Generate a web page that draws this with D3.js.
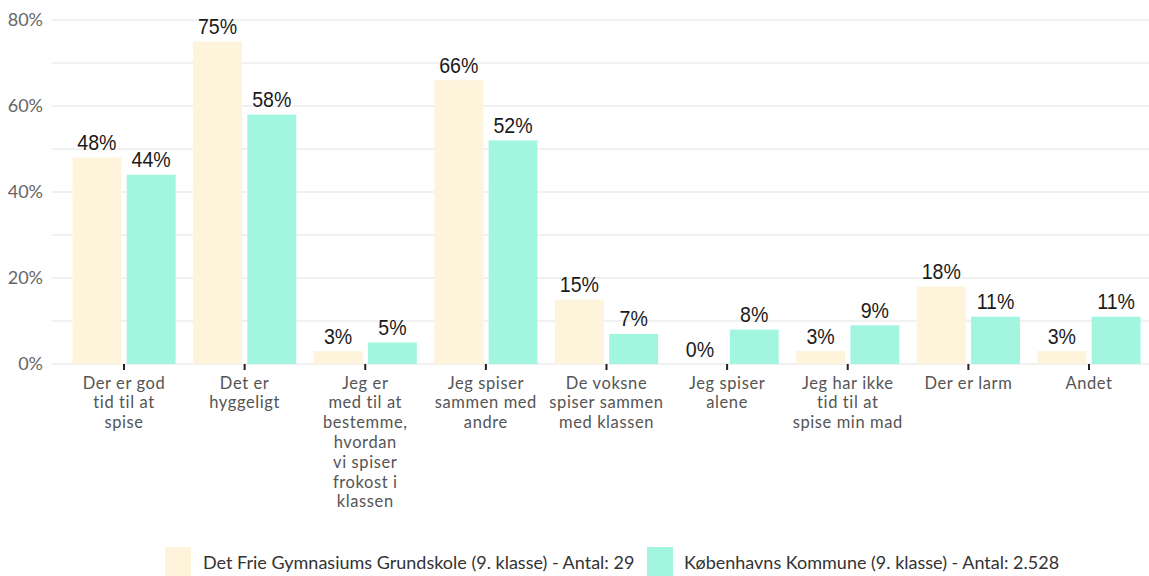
<!DOCTYPE html>
<html>
<head>
<meta charset="utf-8">
<script src="https://cdn.jsdelivr.net/npm/d3@7"></script>
<style>
  html, body { margin: 0; padding: 0; background: #fff; }
  svg { display: block; }
</style>
</head>
<body>
<svg id="chart" width="1149" height="576"></svg>
<script>
// Categories (line breaks mark how each axis label wraps)
const categories = [
  "Der er god\ntid til at\nspise",
  "Det er\nhyggeligt",
  "Jeg er\nmed til at\nbestemme,\nhvordan\nvi spiser\nfrokost i\nklassen",
  "Jeg spiser\nsammen med\nandre",
  "De voksne\nspiser sammen\nmed klassen",
  "Jeg spiser\nalene",
  "Jeg har ikke\ntid til at\nspise min mad",
  "Der er larm",
  "Andet"
];
const seriesNames = [
  "Det Frie Gymnasiums Grundskole (9. klasse) - Antal: 29",
  "Københavns Kommune (9. klasse) - Antal: 2.528"
];
const schoolValues = [48, 75, 3, 66, 15, 0, 3, 18, 3];
const municipalityValues = [44, 58, 5, 52, 7, 8, 9, 11, 11];
const yTicks = [0, 20, 40, 60, 80];
const yGrid = [0, 10, 20, 30, 40, 50, 60, 70, 80];
const colors = ["#FEF4DC", "#A2F5DF"];

const svg = d3.select("#chart");
const plot = { left: 52, right: 1149, top: 20, bottom: 364 };

const y = d3.scaleLinear().domain([0, 80]).range([plot.bottom, plot.top]);
const x0 = d3.scaleBand()
  .domain(d3.range(categories.length))
  .range([63.7, 1149.3])
  .paddingInner(0.145)
  .paddingOuter(0.0725);
const x1 = d3.scaleBand()
  .domain([0, 1])
  .range([0, x0.bandwidth()])
  .paddingInner(0.1);

// Gridlines
svg.append("g")
  .selectAll("line")
  .data(yGrid)
  .join("line")
  .attr("x1", plot.left)
  .attr("x2", plot.right)
  .attr("y1", d => y(d))
  .attr("y2", d => y(d))
  .attr("stroke", "#ececec")
  .attr("stroke-width", 1.6);

// Y axis labels
const yAxis = d3.axisLeft(y)
  .tickValues(yTicks)
  .tickFormat(d => d + "%")
  .tickSize(0)
  .tickPadding(9);
const yg = svg.append("g")
  .attr("transform", `translate(${plot.left},0)`)
  .call(yAxis);
yg.select(".domain").remove();
yg.selectAll("text")
  .attr("fill", "#666")
  .style("font-family", "Lato, 'Noto Sans', sans-serif")
  .style("font-size", "18px");

// Bars
const rows = categories.map((c, i) => ({ i, vals: [schoolValues[i], municipalityValues[i]] }));
const groups = svg.append("g")
  .selectAll("g")
  .data(rows)
  .join("g")
  .attr("transform", d => `translate(${x0(d.i)},0)`);

groups.selectAll("rect")
  .data(d => d.vals.map((v, s) => ({ v, s })))
  .join("rect")
  .attr("x", d => x1(d.s))
  .attr("width", x1.bandwidth())
  .attr("y", d => y(d.v))
  .attr("height", d => y(0) - y(d.v))
  .attr("fill", d => colors[d.s]);

// Value labels above each bar (slightly condensed type)
groups.selectAll("text")
  .data(d => d.vals.map((v, s) => ({ v, s })))
  .join("text")
  .attr("transform", d => `translate(${x1(d.s) + x1.bandwidth() / 2},${y(d.v) - 7.5}) scale(0.87,1)`)
  .attr("text-anchor", "middle")
  .attr("fill", "#1a1a1a")
  .style("font-family", "'Liberation Sans', Arial, sans-serif")
  .style("font-size", "22.5px")
  .text(d => d.v + "%");

// X axis with tick marks and wrapped labels
const xAxis = d3.axisBottom(x0)
  .tickSize(6)
  .tickFormat("");
const xg = svg.append("g")
  .attr("transform", `translate(0,${plot.bottom})`)
  .call(xAxis);
xg.select(".domain").remove();
xg.selectAll(".tick line").attr("stroke", "#222").attr("stroke-width", 2);
xg.selectAll(".tick").each(function (d) {
  const lines = categories[d].split("\n");
  const t = d3.select(this).append("text")
    .attr("text-anchor", "middle")
    .attr("fill", "#555")
    .style("font-family", "Lato, 'Noto Sans', sans-serif")
    .style("font-size", "16.5px")
    .style("letter-spacing", "0.6px");
  lines.forEach((ln, k) => {
    t.append("tspan").attr("x", 0).attr("y", 24.5 + k * 19.8).text(ln);
  });
});

// Legend
const legendItems = [
  { x: 165, textX: 203 },
  { x: 647, textX: 684 }
];
const lg = svg.append("g");
legendItems.forEach((it, s) => {
  lg.append("rect")
    .attr("x", it.x).attr("y", 547)
    .attr("width", 26).attr("height", 29)
    .attr("fill", colors[s]);
  lg.append("text")
    .attr("x", it.textX).attr("y", 569)
    .attr("fill", "#333")
    .style("font-family", "Lato, 'Noto Sans', sans-serif")
    .style("font-size", "18px")
    .text(seriesNames[s]);
});
</script>
</body>
</html>
